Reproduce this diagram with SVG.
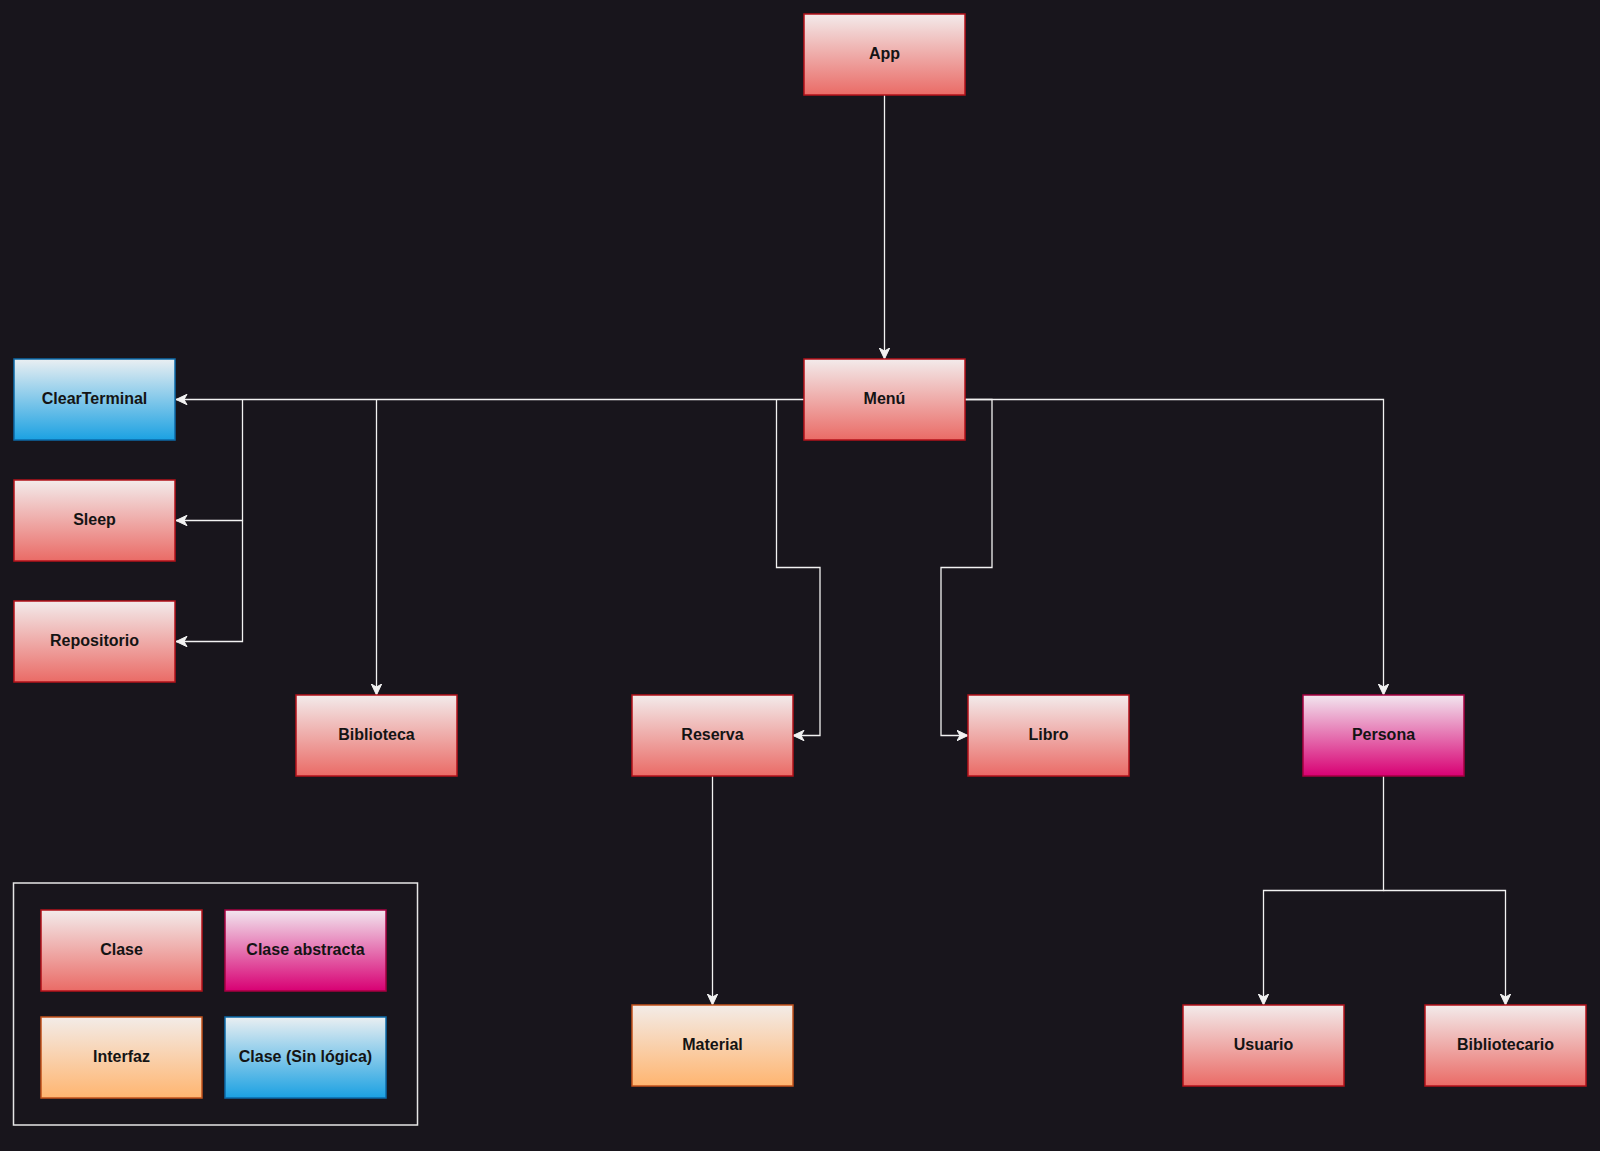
<svg xmlns="http://www.w3.org/2000/svg" width="1600" height="1151" viewBox="0 0 1600 1151">
<defs>
<linearGradient id="gRed" x1="0" y1="0" x2="0" y2="1"><stop offset="0" stop-color="#f3ebeb"/><stop offset="1" stop-color="#ea6b66"/></linearGradient>
<linearGradient id="gPink" x1="0" y1="0" x2="0" y2="1"><stop offset="0" stop-color="#f2e6ef"/><stop offset="1" stop-color="#d80073"/></linearGradient>
<linearGradient id="gBlue" x1="0" y1="0" x2="0" y2="1"><stop offset="0" stop-color="#eaeff2"/><stop offset="1" stop-color="#1ba1e2"/></linearGradient>
<linearGradient id="gOrange" x1="0" y1="0" x2="0" y2="1"><stop offset="0" stop-color="#f3ece8"/><stop offset="1" stop-color="#ffb570"/></linearGradient>
<marker id="arr" markerUnits="userSpaceOnUse" markerWidth="12" markerHeight="12" viewBox="0 0 12 12" refX="11.5" refY="6" orient="auto">
<path d="M0.5,0.8 L11.5,6 L0.5,11.2 L3.5,6 Z" fill="#f2f2f2" stroke="#f2f2f2" stroke-width="1" stroke-linejoin="miter"/>
</marker>
</defs>
<style>
.red{fill:url(#gRed);stroke:#b3121a;stroke-width:1.5}
.pink{fill:url(#gPink);stroke:#a50040;stroke-width:1.5}
.blue{fill:url(#gBlue);stroke:#0b6aa8;stroke-width:1.5}
.orange{fill:url(#gOrange);stroke:#c2521b;stroke-width:1.5}
.t{font-family:"Liberation Sans",Arial,Helvetica,sans-serif;font-size:16px;font-weight:bold;fill:#141414;text-anchor:middle}
.c{fill:none;stroke:#f2f2f2;stroke-width:1.3}
.ca{fill:none;stroke:#f2f2f2;stroke-width:1.3;marker-end:url(#arr)}
</style>
<rect x="0" y="0" width="1600" height="1151" fill="#18151c"/>

<g id="connectors">
<path class="ca" d="M884.5,95 V359"/>
<path class="ca" d="M804,399.5 H176"/>
<path class="ca" d="M242.5,399.5 V520.5 H176"/>
<path class="ca" d="M242.5,520.5 V641.5 H176"/>
<path class="ca" d="M376.5,399.5 V695"/>
<path class="ca" d="M776.5,399.5 V567.5 H820 V735.5 H793"/>
<path class="ca" d="M965,399.5 H992 V567.5 H941 V735.5 H968"/>
<path class="ca" d="M965,399.5 H1383.5 V695"/>
<path class="ca" d="M712.5,776 V1005"/>
<path class="ca" d="M1383.5,776 V890.5 H1263.5 V1005"/>
<path class="ca" d="M1383.5,890.5 H1505.5 V1005"/>
</g>

<g id="node-app"><rect class="red" x="804" y="14" width="161" height="81"/><text class="t" x="884.5" y="59">App</text></g>
<g id="node-menu"><rect class="red" x="804" y="359" width="161" height="81"/><text class="t" x="884.5" y="404">Menú</text></g>
<g id="node-clearterminal"><rect class="blue" x="14" y="359" width="161" height="81"/><text class="t" x="94.5" y="404">ClearTerminal</text></g>
<g id="node-sleep"><rect class="red" x="14" y="480" width="161" height="81"/><text class="t" x="94.5" y="525">Sleep</text></g>
<g id="node-repositorio"><rect class="red" x="14" y="601" width="161" height="81"/><text class="t" x="94.5" y="646">Repositorio</text></g>
<g id="node-biblioteca"><rect class="red" x="296" y="695" width="161" height="81"/><text class="t" x="376.5" y="740">Biblioteca</text></g>
<g id="node-reserva"><rect class="red" x="632" y="695" width="161" height="81"/><text class="t" x="712.5" y="740">Reserva</text></g>
<g id="node-libro"><rect class="red" x="968" y="695" width="161" height="81"/><text class="t" x="1048.5" y="740">Libro</text></g>
<g id="node-persona"><rect class="pink" x="1303" y="695" width="161" height="81"/><text class="t" x="1383.5" y="740">Persona</text></g>
<g id="node-material"><rect class="orange" x="632" y="1005" width="161" height="81"/><text class="t" x="712.5" y="1050">Material</text></g>
<g id="node-usuario"><rect class="red" x="1183" y="1005" width="161" height="81"/><text class="t" x="1263.5" y="1050">Usuario</text></g>
<g id="node-bibliotecario"><rect class="red" x="1425" y="1005" width="161" height="81"/><text class="t" x="1505.5" y="1050">Bibliotecario</text></g>

<g id="legend">
<rect x="13.5" y="883" width="404" height="242" fill="none" stroke="#e6e6e6" stroke-width="1.5"/>
<g id="legend-clase"><rect class="red" x="41" y="910" width="161" height="81"/><text class="t" x="121.5" y="955">Clase</text></g>
<g id="legend-abstracta"><rect class="pink" x="225" y="910" width="161" height="81"/><text class="t" x="305.5" y="955">Clase abstracta</text></g>
<g id="legend-interfaz"><rect class="orange" x="41" y="1017" width="161" height="81"/><text class="t" x="121.5" y="1062">Interfaz</text></g>
<g id="legend-sinlogica"><rect class="blue" x="225" y="1017" width="161" height="81"/><text class="t" x="305.5" y="1062">Clase (Sin lógica)</text></g>
</g>
</svg>
